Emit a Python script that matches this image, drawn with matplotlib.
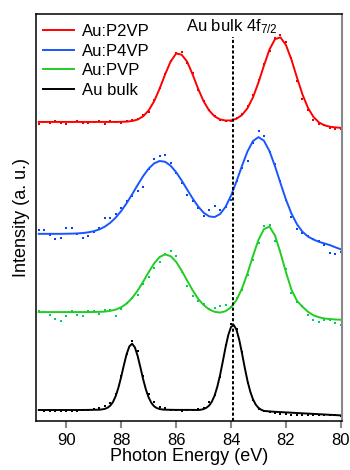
import matplotlib
matplotlib.use("Agg")
import matplotlib.pyplot as plt

plt.rcParams['font.family'] = ['Liberation Sans', 'DejaVu Sans']
plt.rcParams['mathtext.default'] = 'regular'

# photon energy grid (eV), 0.2 eV steps
energy = [91.0, 90.8, 90.6, 90.4, 90.2, 90.0, 89.8, 89.6, 89.4, 89.2,
          89.0, 88.8, 88.6, 88.4, 88.2, 88.0, 87.8, 87.6, 87.4, 87.2,
          87.0, 86.8, 86.6, 86.4, 86.2, 86.0, 85.8, 85.6, 85.4, 85.2,
          85.0, 84.8, 84.6, 84.4, 84.2, 84.0, 83.8, 83.6, 83.4, 83.2,
          83.0, 82.8, 82.6, 82.4, 82.2, 82.0, 81.8, 81.6, 81.4, 81.2,
          81.0, 80.8, 80.6, 80.4, 80.2, 80.0]

# measured points (offset intensity, a.u.)
p2vp_data = [297, 299, 298, 299.5, 298, 297, 299, 300, 298, 297.5,
             299, 299.5, 297, 300, 298.5, 298, 300, 300.5, 302, 306,
             309, 321, 333, 347, 360, 368, 369, 358, 347.5, 331,
             320, 311, 305, 300.5, 300, 300, 303, 307, 315, 326,
             341, 357, 370, 383, 386, 379, 363, 340, 322, 311,
             301, 297, 296, 293, 291.5, 292]
p4vp_data = [191, 191, 186, 182, 183, 193, 193, 187, 183, 185,
             189, 193, 203, 203, 207, 213, 220, 225, 230, 234,
             252, 262, 265, 266, 258, 248, 238, 226, 220, 213,
             205, 211, 215, 211, 214, 221, 240, 253, 260, 278,
             290, 285, 269, 257, 240, 221, 204, 192, 188, 185,
             182, 180, 176, 168, 167, 169]
pvp_data = [109.3, 108.3, 106, 102, 99.3, 104.3, 110, 106, 105, 109.3,
            110, 106.3, 111, 111, 105, 112, 117.7, 123, 126, 136.7,
            143.7, 152.7, 159.3, 167, 170, 165.3, 149.3, 134.3, 125, 120,
            116.7, 112, 112.5, 114.3, 115.3, 114, 123, 131, 146, 161,
            177.7, 195.3, 196, 180.3, 170, 152, 127.7, 118.7, 115, 106,
            100.3, 98.7, 100.3, 100.3, 98, 95.3]
bulk_data = [10.3, 10, 9.7, 9.7, 9.7, 9.7, 9.7, 10, 10.3, 11,
             11.5, 12.5, 14.5, 18, 26.7, 44.3, 66.7, 79.3, 69.3, 44.3,
             27, 18.7, 14, 12.3, 10.3, 10.3, 10, 10.3, 10.3, 11.3,
             12.7, 18.3, 26, 44, 76, 97, 92, 69, 38, 21,
             12, 9.5, 8.7, 7.3, 7, 6.7, 6, 6, 5.7, 6,
             6, 5.3, 5.7, 5.3, 5.3, 4.7]

# fitted curves
p2vp_fit = [299, 299, 299, 299, 299, 299, 299, 299, 299, 299,
            299, 299, 299, 299, 299, 299.1, 299.3, 299.9, 301.4, 304.6,
            310.5, 319.7, 332.3, 346.6, 359.4, 367.5, 366.3, 359.4, 346.6, 332.3,
            319.7, 310.5, 304.6, 301.5, 300.4, 300.5, 302.2, 306.0, 312.8, 323.7,
            338.6, 355.6, 371.5, 381.8, 383.6, 375.9, 361.2, 343.4, 326.5, 313.1,
            304.0, 298.5, 295.6, 294.2, 293.5, 293.1]
p4vp_fit = [187, 187, 187, 187, 187, 187.1, 187.2, 187.4, 187.8, 188.5,
            189.6, 191.4, 194.1, 198.0, 203.2, 209.8, 217.7, 226.6, 235.9, 244.8,
            252.3, 257.5, 259.9, 259.1, 255.2, 248.7, 240.5, 231.4, 222.5, 214.5,
            208.2, 204.5, 203.8, 206.8, 214.0, 225.3, 239.6, 255.2, 269.6, 279.9,
            283.8, 280.1, 269.7, 254.7, 237.7, 221.2, 207.2, 196.6, 189.1, 184.3,
            181.3, 179.0, 177.4, 175.7, 173.5, 171.5]
pvp_fit = [108.7, 108.7, 108.7, 108.7, 108.7, 108.7, 108.7, 108.7, 108.7, 108.7,
           108.8, 108.9, 109.2, 109.9, 111.2, 113.5, 117.2, 122.8, 130.2, 139.1,
           148.6, 157.4, 163.8, 166.4, 164.7, 159.0, 150.3, 140.3, 130.6, 122.1,
           115.8, 111.4, 109.0, 108.2, 109.6, 113.5, 120.8, 132.4, 147.6, 165.0,
           181.1, 191.8, 194.2, 185.4, 167.9, 148.5, 131, 120, 114, 109,
           105.5, 103.5, 102.3, 101.7, 101.3, 101]

# bulk peaks are narrow, so its fit is read on a finer grid around them
bulk_fit_energy = [91.0, 90.8, 90.6, 90.4, 90.2, 90.0, 89.8, 89.6, 89.4, 89.2, 89.0,
                   88.8, 88.7, 88.6, 88.5, 88.4, 88.3, 88.2, 88.1, 88.0, 87.9,
                   87.8, 87.7, 87.6, 87.5, 87.4, 87.3, 87.2, 87.1, 87.0, 86.9,
                   86.8, 86.7, 86.6, 86.5, 86.4,
                   86.2, 86.0, 85.8, 85.6, 85.4,
                   85.2, 85.1, 85.0, 84.9, 84.8, 84.7, 84.6, 84.5, 84.4, 84.3,
                   84.2, 84.1, 84.0, 83.9, 83.8, 83.7, 83.6, 83.5, 83.4, 83.3,
                   83.2, 83.1, 83.0, 82.9, 82.8,
                   82.6, 82.4, 82.2, 82.0, 81.8, 81.6, 81.4, 81.2, 81.0,
                   80.8, 80.6, 80.4, 80.2, 80.0]
bulk_fit = [10.7, 10.7, 10.7, 10.7, 10.7, 10.7, 10.7, 10.7, 10.7, 10.8, 10.9,
            11.0, 11.3, 11.8, 12.9, 15.0, 18.6, 24.6, 33.1, 43.8, 55.8,
            66.8, 74.5, 77.0, 73.3, 64.8, 53.4, 41.5, 31.2, 23.3, 17.8,
            14.4, 12.6, 11.7, 11.2, 11.0,
            10.9, 10.8, 10.8, 10.8, 10.8,
            10.7, 11.0, 11.6, 12.9, 15.1, 19.0, 25.1, 34.0, 45.6, 59.3,
            73.5, 85.8, 93.9, 95.7, 90.9, 80.7, 67.3, 52.9, 39.7, 29.1,
            21.3, 16.1, 12.8, 10.9, 9.8,
            9.3, 8.9, 8.6, 8.3, 8.0, 7.7, 7.4, 7.1, 6.8,
            6.5, 6.2, 5.9, 5.6, 5.3]

labels = ['Au:P2VP', 'Au:P4VP', 'Au:PVP', 'Au bulk']
line_colors = ['#ff0000', '#1a55ff', '#22cc22', '#000000']
dot_colors = ['#e60000', '#0044ff', '#00cc66', '#000000']
bulk_4f72 = 83.92

fig = plt.figure(figsize=(3.5, 4.7), dpi=100)
ax = fig.add_axes([0.1029, 0.1049, 0.8743, 0.8653])

fit_x = [energy, energy, energy, bulk_fit_energy]
fits = [p2vp_fit, p4vp_fit, pvp_fit, bulk_fit]
datas = [p2vp_data, p4vp_data, pvp_data, bulk_data]
for fx, fit, data, lab, lc, dc in zip(fit_x, fits, datas, labels,
                                      line_colors, dot_colors):
    ax.plot(energy, data, linestyle='none', marker='s', markersize=1.6,
            markeredgewidth=0, color=dc)
    ax.plot(fx, fit, color=lc, lw=1.4, label=lab)

# reference line for bulk Au 4f7/2
ax.plot([bulk_4f72, bulk_4f72], [0, 384], color='black', lw=1.4,
        dashes=(1.6, 1.1))
ax.text(85.65, 389.5, r'Au bulk 4f$_{7/2}$', fontsize=12, va='baseline',
        ha='left')

ax.set_xlim(91.1, 79.96)
ax.set_ylim(0, 407)
ax.set_xticks([90, 88, 86, 84, 82, 80])
ax.set_yticks([])
ax.tick_params(axis='x', direction='out', length=5, width=1.5,
               color='#888888', labelsize=12, pad=4)
ax.set_xlabel('Photon Energy (eV)', fontsize=13, labelpad=0)
ax.set_ylabel('Intensity (a. u.)', fontsize=13, labelpad=4)

for side in ['left', 'bottom', 'top']:
    ax.spines[side].set_color('black')
    ax.spines[side].set_linewidth(1.1)
ax.spines['right'].set_color('#888888')
ax.spines['right'].set_linewidth(1.5)

ax.legend(loc='upper left', bbox_to_anchor=(0.024, 0.975), frameon=False,
          fontsize=12, borderpad=0, borderaxespad=0, handlelength=1.85,
          handletextpad=0.45, labelspacing=0.27)

fig.savefig('out.png', dpi=100)
